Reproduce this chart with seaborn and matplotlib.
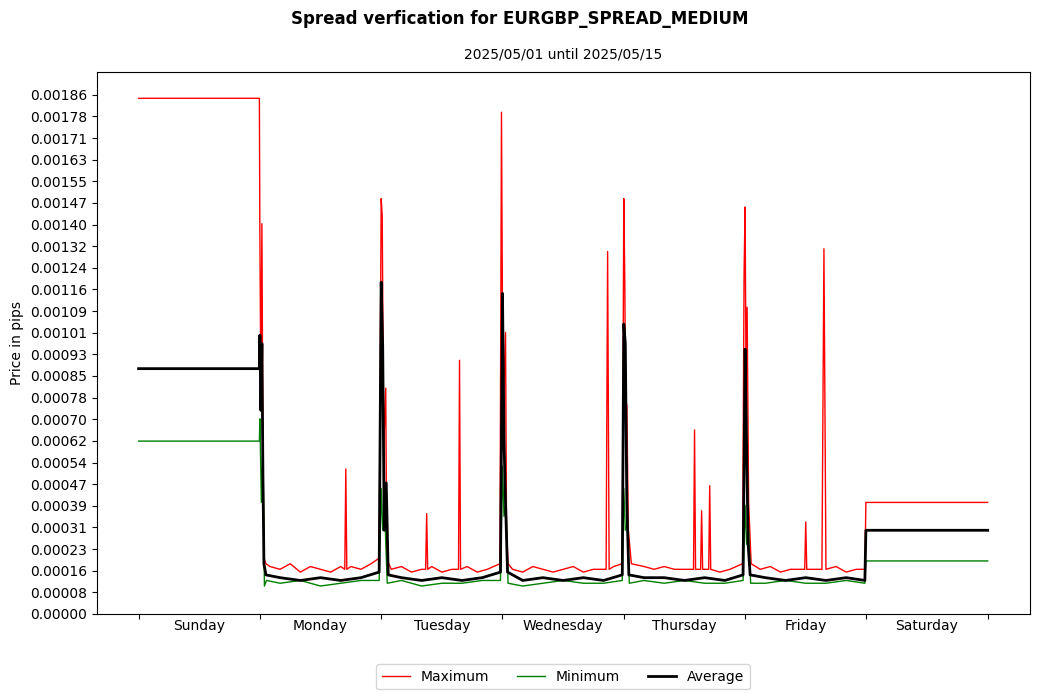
import numpy as np
import pandas as pd
import matplotlib
matplotlib.use("Agg")
import matplotlib.pyplot as plt
import seaborn as sns

# hours since start of the week (Sunday 00:00) and spread values
max_h = [0, 23.9, 24.0, 24.2, 24.4, 24.6, 24.8, 25.2, 26, 28, 30, 32, 34, 36, 38, 40, 40.8, 41, 41.2, 42, 44, 46,
         47.6, 48, 48.2, 48.5, 48.9, 49.1, 49.5, 50, 52, 54, 56, 56.8, 57, 57.2, 58, 60, 62, 63.3, 63.5, 63.7, 65,
         67, 69, 71.5, 71.8, 72.1, 72.6, 72.8, 73.1, 74, 76, 78, 80, 82, 84, 86, 88, 90, 92.5, 92.8, 93.1, 94, 95.7,
         96, 96.2, 96.4, 96.6, 96.9, 97.5, 100, 102, 104, 106, 108, 109.8, 110, 110.2, 111.2, 111.4, 111.6, 112.8,
         113, 113.2, 115, 117, 119.5, 119.8, 120, 120.2, 120.4, 120.7, 121.2, 123, 125, 127, 129, 131.8, 132, 132.2,
         134, 135.2, 135.6, 136, 138, 140, 142, 143.7, 143.9, 168]
max_v = [0.00185, 0.00185, 0.00136, 0.00080, 0.00140, 0.00060, 0.00020, 0.00018, 0.00017, 0.00016, 0.00018, 0.00015,
         0.00017, 0.00016, 0.00015, 0.00017, 0.00016, 0.00052, 0.00016, 0.00017, 0.00016, 0.00018, 0.00020,
         0.00149, 0.00143, 0.00060, 0.00081, 0.00020, 0.00018, 0.00016, 0.00017, 0.00015, 0.00016, 0.00016,
         0.00036, 0.00016, 0.00017, 0.00015, 0.00016, 0.00016, 0.00091, 0.00016, 0.00017, 0.00015, 0.00016,
         0.00018, 0.00180, 0.00070, 0.00101, 0.00030, 0.00018, 0.00016, 0.00015, 0.00017, 0.00016, 0.00015,
         0.00016, 0.00017, 0.00015, 0.00016, 0.00016, 0.00130, 0.00016, 0.00017, 0.00018, 0.00149, 0.00120,
         0.00060, 0.00075, 0.00030, 0.00018, 0.00017, 0.00016, 0.00017, 0.00016, 0.00016, 0.00016, 0.00066,
         0.00016, 0.00016, 0.00037, 0.00016, 0.00016, 0.00046, 0.00016, 0.00015, 0.00016, 0.00018, 0.00122,
         0.00146, 0.00080, 0.00110, 0.00040, 0.00018, 0.00016, 0.00017, 0.00015, 0.00016, 0.00016, 0.00033,
         0.00016, 0.00016, 0.00016, 0.00131, 0.00016, 0.00017, 0.00015, 0.00016, 0.00016, 0.00040, 0.00040]

min_h = [0, 23.9, 24.0, 24.3, 24.6, 24.9, 25.3, 28, 32, 36, 40, 44, 47.6, 48, 48.3, 48.7, 49.2, 52, 56, 60, 64,
         68, 71.6, 72, 72.3, 72.7, 73.1, 76, 80, 84, 88, 92, 95.7, 96, 96.3, 96.7, 97.1, 100, 104, 108, 112, 116,
         119.6, 120, 120.3, 120.7, 121.1, 124, 128, 132, 136, 140, 143.7, 143.9, 168]
min_v = [0.00062, 0.00062, 0.00070, 0.00040, 0.00060, 0.00010, 0.00012, 0.00011, 0.00012, 0.00010, 0.00011,
         0.00012, 0.00012, 0.00045, 0.00030, 0.00036, 0.00011, 0.00012, 0.00010, 0.00011, 0.00011, 0.00012,
         0.00012, 0.00053, 0.00035, 0.00040, 0.00011, 0.00010, 0.00011, 0.00012, 0.00011, 0.00011, 0.00012,
         0.00045, 0.00030, 0.00032, 0.00011, 0.00012, 0.00011, 0.00012, 0.00011, 0.00011, 0.00012, 0.00039,
         0.00025, 0.00030, 0.00011, 0.00011, 0.00012, 0.00011, 0.00011, 0.00012, 0.00011, 0.00019, 0.00019]

avg_h = [0, 23.9, 24.0, 24.2, 24.4, 24.6, 24.8, 25.2, 28, 32, 36, 40, 44, 47.6, 48, 48.3, 48.6, 49.0, 49.4, 52,
         56, 60, 64, 68, 71.6, 72, 72.3, 72.6, 73.0, 76, 80, 84, 88, 92, 95.7, 96, 96.3, 96.6, 97.0, 100, 104, 108,
         112, 116, 119.6, 120, 120.3, 120.6, 121.0, 124, 128, 132, 136, 140, 143.7, 143.9, 168]
avg_v = [0.00088, 0.00088, 0.00100, 0.00073, 0.00097, 0.00050, 0.00018, 0.00014, 0.00013, 0.00012, 0.00013,
         0.00012, 0.00013, 0.00015, 0.00119, 0.00096, 0.00030, 0.00047, 0.00014, 0.00013, 0.00012, 0.00013,
         0.00012, 0.00013, 0.00015, 0.00115, 0.00062, 0.00040, 0.00015, 0.00012, 0.00013, 0.00012, 0.00013,
         0.00012, 0.00014, 0.00104, 0.00097, 0.00040, 0.00014, 0.00013, 0.00013, 0.00012, 0.00013, 0.00012,
         0.00014, 0.00095, 0.00060, 0.00025, 0.00014, 0.00013, 0.00012, 0.00013, 0.00012, 0.00013, 0.00012,
         0.00030, 0.00030]

days = ["Sunday", "Monday", "Tuesday", "Wednesday", "Thursday", "Friday", "Saturday"]
y_ticks = np.linspace(0, 0.0018624, 25)

fig, ax = plt.subplots(figsize=(10.39, 7), dpi=100)
sns.lineplot(x=max_h, y=max_v, color="red", lw=1, label="Maximum", ax=ax, estimator=None, sort=False)
sns.lineplot(x=min_h, y=min_v, color="green", lw=1, label="Minimum", ax=ax, estimator=None, sort=False)
sns.lineplot(x=avg_h, y=avg_v, color="black", lw=2, label="Average", ax=ax, estimator=None, sort=False)

ax.set_xlim(-8.3, 176.3)
ax.set_ylim(0, 0.001944)
ax.set_yticks(y_ticks)
ax.set_yticklabels([f"{v:.5f}" for v in y_ticks])
ax.set_xticks(np.arange(0, 169, 24))
ax.set_xticklabels([])
ax.set_xticks(np.arange(12, 168, 24), minor=True)
ax.set_xticklabels(days, minor=True)
ax.tick_params(axis="x", which="minor", length=0)
ax.set_ylabel("Price in pips")
ax.set_title("2025/05/01 until 2025/05/15", fontsize=10, pad=10)
fig.suptitle("Spread verfication for EURGBP_SPREAD_MEDIUM", fontweight="bold", y=0.985)
ax.legend(loc="upper center", bbox_to_anchor=(0.5, -0.08), ncol=3)
fig.subplots_adjust(left=0.093, right=0.991, top=0.897, bottom=0.123)
fig.savefig("out.png")
